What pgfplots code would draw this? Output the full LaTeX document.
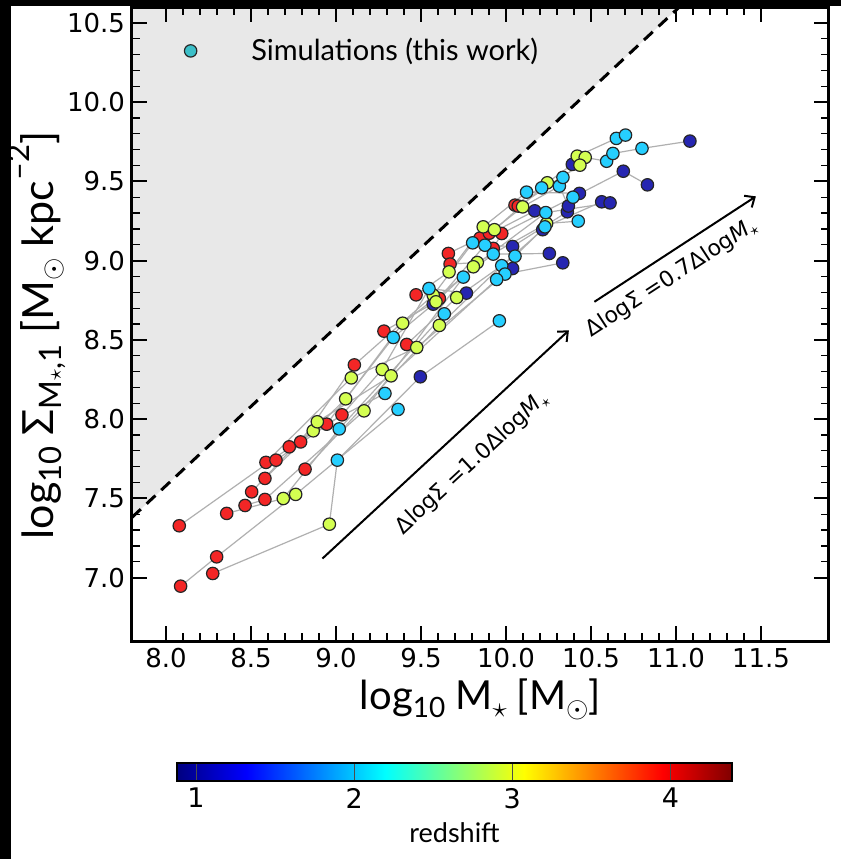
\documentclass[border=0pt]{standalone}
\usepackage{fontspec}
\setmainfont{Lato}
\newfontfamily\dejavu{DejaVu Sans}
\usepackage{pgfplots}
\pgfplotsset{compat=1.18}
\usetikzlibrary{arrows.meta}
\definecolor{shade}{HTML}{E8E8E8}
\definecolor{trk}{HTML}{B0B0B0}
\definecolor{legcyan}{HTML}{3CBFC8}
\newcommand\lsub[1]{\raisebox{-0.35ex}{\fontsize{14}{14}\selectfont #1}}
\newcommand\lsubb[1]{\raisebox{-0.35ex}{\fontsize{15.5}{15.5}\selectfont #1}}
\newcommand\lsup[1]{\raisebox{1.1ex}{\fontsize{15.5}{15.5}\selectfont #1}}
\pgfplotstableread{
x y z
9.496 8.267 1
9.572 8.725 1
9.767 8.795 1
10.039 9.089 1
10.039 8.950 1
10.255 9.045 1
10.334 8.986 1
10.169 9.314 1
10.216 9.195 1
10.361 9.308 1
10.367 9.344 1
10.432 9.424 1
10.563 9.371 1
10.612 9.364 1
10.390 9.607 1
10.690 9.564 1
10.832 9.478 1
11.082 9.754 1
8.078 7.327 4
8.086 6.946 4
8.298 7.131 4
8.275 7.026 4
8.357 7.405 4
8.465 7.455 4
8.504 7.541 4
8.582 7.493 4
8.582 7.626 4
8.588 7.727 4
8.647 7.741 4
8.725 7.825 4
8.792 7.856 4
8.818 7.684 4
8.945 7.968 4
9.035 8.027 4
9.108 8.342 4
9.282 8.555 4
9.416 8.471 4
9.471 8.784 4
9.608 8.761 4
9.661 9.045 4
9.671 8.978 4
9.847 9.142 4
9.902 9.173 4
9.975 9.171 4
9.925 9.077 4
10.053 9.350 4
10.072 9.344 4
8.690 7.499 2.9
8.763 7.525 2.9
8.961 7.337 2.9
8.866 7.926 2.9
8.890 7.983 2.9
9.165 8.052 2.9
9.057 8.128 2.9
9.090 8.260 2.9
9.272 8.313 2.9
9.324 8.273 2.9
9.392 8.605 2.9
9.475 8.452 2.9
9.608 8.591 2.9
9.572 8.782 2.9
9.588 8.740 2.9
9.710 8.767 2.9
9.665 8.929 2.9
9.831 8.988 2.9
9.808 8.961 2.9
9.866 9.213 2.9
9.932 9.195 2.9
10.098 9.339 2.9
10.239 9.234 2.9
10.243 9.491 2.9
10.419 9.659 2.9
10.466 9.651 2.9
10.435 9.602 2.9
9.008 7.741 2
9.019 7.938 2
9.288 8.162 2
9.337 8.515 2
9.365 8.061 2
9.637 8.664 2
9.547 8.824 2
9.749 8.896 2
9.804 9.112 2
9.876 9.097 2
9.925 9.041 2
9.961 8.620 2
10.053 9.028 2
9.975 8.968 2
9.994 8.915 2
9.945 8.881 2
10.121 9.432 2
10.210 9.459 2
10.314 9.470 2
10.335 9.525 2
10.234 9.303 2
10.229 9.213 2
10.394 9.400 2
10.425 9.249 2
10.592 9.627 2
10.629 9.676 2
10.649 9.771 2
10.703 9.792 2
10.800 9.708 2
}\pts
\begin{document}
\begin{tikzpicture}
\path[use as bounding box] (0,0) rectangle (420.5pt,429.5pt);
\fill[black] (0,0) rectangle (420.5pt,429.5pt);
\fill[white] (5.5pt,0) rectangle (420.5pt,426.5pt);
\begin{axis}[
  at={(66pt,109pt)}, anchor=south west,
  scale only axis, width=348.5pt, height=317pt,
  xmin=7.8, xmax=11.9, ymin=6.6, ymax=10.6,
  xtick={8,8.5,9,9.5,10,10.5,11,11.5},
  ytick={7,7.5,8,8.5,9,9.5,10,10.5},
  minor tick num=4,
  tick align=inside,
  major tick length=7.5pt, minor tick length=4pt,
  every major tick/.append style={line width=1pt, black},
  every minor tick/.append style={line width=0.6pt, black},
  axis line style={line width=1.5pt},
  axis on top,
  /pgf/number format/assume math mode=true,
  tick label style={font=\dejavu\fontsize{13}{15}\selectfont},
  xticklabel style={/pgf/number format/.cd, fixed, fixed zerofill, precision=1},
  yticklabel style={/pgf/number format/.cd, fixed, fixed zerofill, precision=1},
  xlabel={log\lsub{10} M\lsub{$\star$} [M\lsub{$\odot$}]},
  ylabel={log\lsubb{10} Σ\lsubb{M{\fontsize{11}{11}\selectfont$\star$},1} [M\lsubb{$\odot$} kpc\lsup{–2}]},
  xlabel style={font=\fontsize{20}{24}\selectfont, at={(axis description cs:0.5,-0.092)}, anchor=center},
  ylabel style={font=\fontsize{21.5}{25}\selectfont, at={(axis description cs:-0.137,0.482)}, anchor=center},
  colormap/jet,
  point meta min=0.88, point meta max=4.39,
  colorbar horizontal,
  colorbar style={
    at={(0.0646,-0.1927)}, anchor=north west,
    scale only axis, width=277.5pt, height=9pt,
    xtick={1,2,3,4},
    xtick pos=left,
    tick align=inside, major tick length=9pt,
    every major tick/.append style={line width=0.5pt, black!70},
    axis line style={line width=1pt},
    /pgf/number format/assume math mode=true,
    xticklabel style={font=\dejavu\fontsize{13.5}{15}\selectfont},
    xlabel={redshift},
    xlabel style={font=\fontsize{13.5}{15}\selectfont},
  },
]
\addplot[fill=shade, draw=none] coordinates {(7.8,7.38) (7.8,10.6) (11.02,10.6) (7.8,7.38)};
\addplot[black, line width=1.5pt, dash pattern=on 6pt off 4pt] coordinates {(7.8,7.38) (11.02,10.6)};
\pgfplotsset{trkstyle/.style={trk, line width=0.6pt, forget plot}}
\addplot[trkstyle] coordinates {(8.078,7.327) (8.866,7.926) (9.288,8.162)};
\addplot[trkstyle] coordinates {(8.086,6.946) (8.298,7.131) (8.763,7.525) (9.365,8.061)};
\addplot[trkstyle] coordinates {(8.275,7.026) (8.961,7.337) (9.008,7.741) (9.496,8.267) (9.961,8.620)};
\addplot[trkstyle] coordinates {(8.357,7.405) (8.690,7.499) (9.019,7.938) (9.637,8.664)};
\addplot[trkstyle] coordinates {(8.465,7.455) (8.582,7.493) (9.165,8.052) (9.749,8.896)};
\addplot[trkstyle] coordinates {(8.504,7.541) (8.890,7.983) (9.324,8.273) (9.945,8.881) (10.039,8.950)};
\addplot[trkstyle] coordinates {(8.582,7.626) (9.057,8.128) (9.337,8.515) (9.572,8.725)};
\addplot[trkstyle] coordinates {(8.588,7.727) (9.090,8.260) (9.475,8.452) (9.994,8.915) (10.334,8.986)};
\addplot[trkstyle] coordinates {(8.647,7.741) (9.035,8.027) (9.272,8.313) (9.547,8.824) (9.767,8.795)};
\addplot[trkstyle] coordinates {(8.725,7.825) (8.945,7.968) (9.392,8.605) (9.925,9.041) (10.255,9.045)};
\addplot[trkstyle] coordinates {(8.792,7.856) (9.108,8.342) (9.572,8.782) (9.804,9.112) (10.169,9.314)};
\addplot[trkstyle] coordinates {(8.818,7.684) (9.608,8.591) (9.975,8.968) (10.216,9.195)};
\addplot[trkstyle] coordinates {(9.282,8.555) (9.588,8.740) (9.876,9.097) (10.039,9.089) (10.361,9.308)};
\addplot[trkstyle] coordinates {(9.416,8.471) (9.710,8.767) (10.053,9.028) (10.229,9.213) (10.563,9.371)};
\addplot[trkstyle] coordinates {(9.471,8.784) (9.665,8.929) (9.866,9.213) (10.121,9.432) (10.432,9.424)};
\addplot[trkstyle] coordinates {(9.608,8.761) (9.808,8.961) (10.234,9.303) (10.612,9.364)};
\addplot[trkstyle] coordinates {(9.661,9.045) (9.847,9.142) (9.932,9.195) (10.210,9.459) (10.335,9.525)};
\addplot[trkstyle] coordinates {(9.671,8.978) (9.831,8.988) (10.239,9.234) (10.425,9.249)};
\addplot[trkstyle] coordinates {(9.902,9.173) (10.098,9.339) (10.314,9.470) (10.367,9.344)};
\addplot[trkstyle] coordinates {(9.925,9.077) (9.975,9.171) (10.394,9.400) (10.690,9.564) (10.832,9.478)};
\addplot[trkstyle] coordinates {(10.053,9.350) (10.243,9.491) (10.390,9.607) (10.419,9.659) (10.649,9.771) (10.703,9.792)};
\addplot[trkstyle] coordinates {(10.072,9.344) (10.435,9.602) (10.466,9.651) (10.592,9.627) (10.629,9.676) (10.800,9.708) (11.082,9.754)};
\addplot[scatter, only marks, mark=*, mark size=3.1pt, point meta=explicit,
  scatter/use mapped color={draw=black!85, fill=mapped color!85!white},
  mark options={line width=0.6pt}] table[x=x, y=y, meta=z] {\pts};
\addplot[black, line width=1pt, -{Straight Barb[length=4pt, width=7pt]}] coordinates {(8.92,7.12) (10.37,8.56)};
\addplot[black, line width=1pt, -{Straight Barb[length=4pt, width=7pt]}] coordinates {(10.52,8.74) (11.47,9.405)};
\node[rotate=42.8, font=\dejavu\fontsize{11}{12}\selectfont] at (axis cs:9.80,7.722) {ΔlogΣ =1.0Δlog{\itshape M}\raisebox{-0.3ex}{\fontsize{8}{8}\selectfont$\star$}};
\node[rotate=33.1, font=\dejavu\fontsize{11}{12}\selectfont] at (axis cs:10.975,8.89) {ΔlogΣ =0.7Δlog{\itshape M}\raisebox{-0.3ex}{\fontsize{8}{8}\selectfont$\star$}};
\addplot[only marks, mark=*, mark size=3.1pt, mark options={fill=legcyan, draw=black!85, line width=0.6pt}] coordinates {(8.145,10.323)};
\node[anchor=west, font=\fontsize{14.5}{16}\selectfont] at (axis cs:8.46,10.323) {Simulations (this work)};
\end{axis}
\end{tikzpicture}
\end{document}
